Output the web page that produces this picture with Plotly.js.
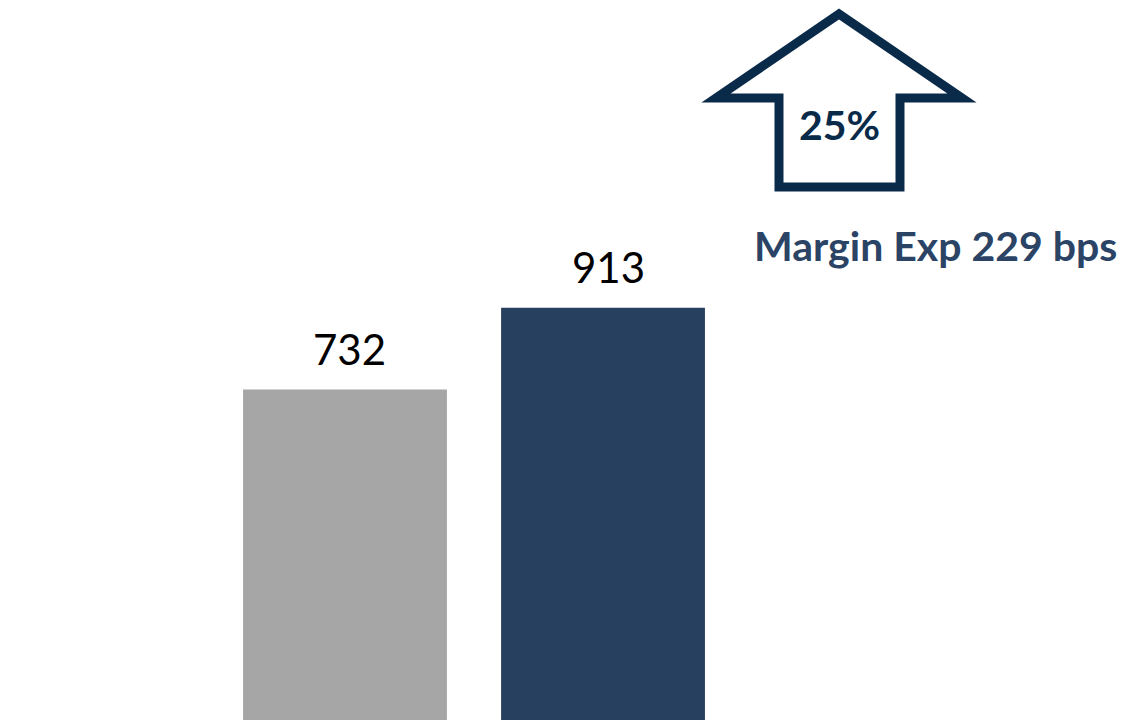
<!DOCTYPE html>
<html>
<head>
<meta charset="utf-8">
<script src="https://cdn.plot.ly/plotly-3.0.1.min.js"></script>
<style>html,body{margin:0;padding:0;background:#fff;}#chart{width:1148px;height:720px;}</style>
</head>
<body>
<div id="chart"></div>
<script>
const categories = ["Prior period", "Current period"];
const values = [732, 913];
const barColors = ["#a6a6a6", "#284060"];
const growthLabel = "25%";
const marginLabel = "Margin Exp 229 bps";

const W = 1148, H = 720;
const px = (x) => x / W;
const py = (y) => 1 - y / H;

const arrowPts = [[839,14],[716,98],[779,98],[779,187],[900,187],[900,98],[962,98]];
const arrowPath = "M " + arrowPts.map(p => px(p[0]).toFixed(5) + "," + py(p[1]).toFixed(5)).join(" L ") + " Z";

const trace = {
  type: "bar",
  x: categories,
  y: values,
  marker: {color: barColors, line: {width: 0}},
  width: 0.79,
  hoverinfo: "skip"
};

const valueAnnotations = categories.map((c, i) => ({
  x: c, y: values[i], xref: "x", yref: "y",
  text: String(values[i]),
  showarrow: false, yanchor: "bottom", yshift: 14, xshift: 5,
  font: {family: "Lato, 'Open Sans', sans-serif", size: 42, color: "#000"}
}));

const layout = {
  width: W, height: H,
  margin: {l: 0, r: 0, t: 0, b: 0},
  paper_bgcolor: "#fff", plot_bgcolor: "#fff",
  showlegend: false,
  xaxis: {type: "category", range: [-1.337, 3.112], showticklabels: false, showgrid: false, zeroline: false, showline: false, ticks: ""},
  yaxis: {range: [0, 1595], showticklabels: false, showgrid: false, zeroline: false, showline: false, ticks: ""},
  shapes: [{
    type: "path", xref: "paper", yref: "paper", path: arrowPath,
    line: {color: "#0a2a4a", width: 9}, fillcolor: "rgba(0,0,0,0)"
  }],
  annotations: valueAnnotations.concat([
    {xref: "paper", yref: "paper", x: px(839), y: py(124), text: "<b>" + growthLabel + "</b>", showarrow: false,
     xanchor: "center", yanchor: "middle", font: {family: "Lato, 'Open Sans', sans-serif", size: 41, color: "#0a2a4a"}},
    {xref: "paper", yref: "paper", x: px(935), y: py(245), text: "<b>" + marginLabel + "</b>", showarrow: false,
     xanchor: "center", yanchor: "middle", font: {family: "Lato, 'Open Sans', sans-serif", size: 41, color: "#2b4466"}}
  ])
};

Plotly.newPlot("chart", [trace], layout, {displayModeBar: false, staticPlot: true});
</script>
</body>
</html>
